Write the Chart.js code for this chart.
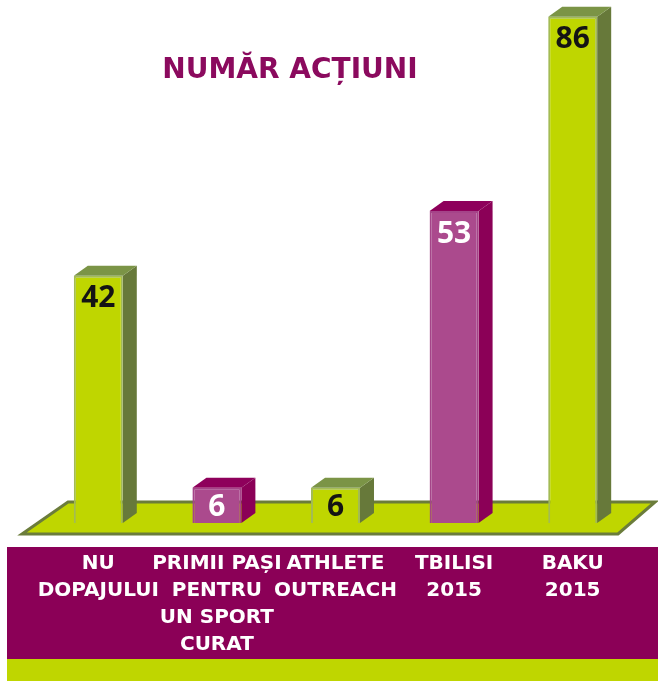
<!DOCTYPE html>
<html>
<head>
<meta charset="utf-8">
<script src="https://cdn.jsdelivr.net/npm/chart.js@4.4.1/dist/chart.umd.min.js"></script>
<style>
  html, body { margin: 0; padding: 0; background: #fff; }
  #caixa { width: 658px; height: 681px; position: relative; }
</style>
</head>
<body>
<div id="caixa"><canvas id="grafico"></canvas></div>
<script>
// dados do gráfico
const titulo = 'NUMĂR ACȚIUNI';
const categorias = [
  ['NU', 'DOPAJULUI'],
  ['PRIMII PAȘI', 'PENTRU', 'UN SPORT', 'CURAT'],
  ['ATHLETE', 'OUTREACH'],
  ['TBILISI', '2015'],
  ['BAKU', '2015']
];
const valores = [42, 6, 6, 53, 86];
const tipoCor = ['verde', 'roxo', 'verde', 'roxo', 'verde'];

// cores
const cores = {
  verde: { frente: '#bfd600', borda: '#a3bb55', lado: '#67793a', topo: '#7b9446', texto: '#141414' },
  roxo: { frente: '#ab4a8d', borda: '#a54489', lado: '#8b0057', topo: '#8e005b', texto: '#ffffff' }
};
const roxoFaixa = '#8b0057';
const verdeFaixa = '#bfd600';
const bordaChao = '#6b7c3b';
const fonte = '"DejaVu Sans", sans-serif';
const fonteValor = '"Open Sans", sans-serif';

// fundo: faixa roxa das categorias e faixa verde embaixo
const fundo = {
  id: 'fundo',
  beforeDraw(chart) {
    const ctx = chart.ctx;
    ctx.save();
    ctx.fillStyle = roxoFaixa;
    ctx.fillRect(7, 547, chart.width - 7, 112);
    ctx.fillStyle = verdeFaixa;
    ctx.fillRect(7, 659, chart.width - 7, chart.height - 659);
    ctx.restore();
  }
};

// chão em perspectiva
const chao = {
  id: 'chao',
  beforeDatasetsDraw(chart) {
    const ctx = chart.ctx;
    const a = chart.chartArea;
    const yTopo = a.bottom - 21, yBase = a.bottom + 11;
    ctx.save();
    ctx.beginPath();
    ctx.moveTo(a.left + 29, yTopo);
    ctx.lineTo(chart.width - 3, yTopo);
    ctx.lineTo(a.right - 14, yBase);
    ctx.lineTo(a.left - 17, yBase);
    ctx.closePath();
    ctx.fillStyle = verdeFaixa;
    ctx.fill();
    ctx.lineWidth = 3;
    ctx.strokeStyle = bordaChao;
    ctx.stroke();
    ctx.restore();
  }
};

// lados e topo das barras (efeito 3D) + valores
const barras3d = {
  id: 'barras3d',
  afterDatasetsDraw(chart) {
    const ctx = chart.ctx;
    const meta = chart.getDatasetMeta(0);
    const dx = 14, dy = 10;
    meta.data.forEach((bar, i) => {
      const c = cores[tipoCor[i]];
      const esq = bar.x - bar.width / 2, dir = bar.x + bar.width / 2;
      ctx.save();
      // lado
      ctx.beginPath();
      ctx.moveTo(dir, bar.y);
      ctx.lineTo(dir + dx, bar.y - dy);
      ctx.lineTo(dir + dx, bar.base - dy);
      ctx.lineTo(dir, bar.base);
      ctx.closePath();
      ctx.fillStyle = c.lado;
      ctx.fill();
      // topo
      ctx.beginPath();
      ctx.moveTo(esq, bar.y);
      ctx.lineTo(esq + dx, bar.y - dy);
      ctx.lineTo(dir + dx, bar.y - dy);
      ctx.lineTo(dir, bar.y);
      ctx.closePath();
      ctx.fillStyle = c.topo;
      ctx.fill();
      // valor
      ctx.fillStyle = c.texto;
      ctx.font = 'bold 30px ' + fonteValor;
      ctx.textAlign = 'center';
      ctx.textBaseline = 'middle';
      const yTexto = Math.min(bar.y + 23, (bar.y + bar.base) / 2 + 2);
      ctx.fillText(valores[i], bar.x, yTexto);
      ctx.restore();
    });
  }
};

// título
const tituloPlugin = {
  id: 'tituloPlugin',
  afterDraw(chart) {
    const ctx = chart.ctx;
    ctx.save();
    ctx.fillStyle = '#8b0a5e';
    ctx.font = 'bold 28px ' + fonte;
    ctx.textAlign = 'center';
    ctx.textBaseline = 'middle';
    ctx.fillText(titulo, 290, 71);
    ctx.restore();
  }
};

const dados = {
  labels: categorias,
  datasets: [{
    data: valores,
    backgroundColor: tipoCor.map(t => cores[t].frente),
    borderColor: tipoCor.map(t => cores[t].borda),
    borderWidth: 2,
    barPercentage: 0.413,
    categoryPercentage: 1
  }]
};

const config = {
  type: 'bar',
  data: dados,
  options: {
    responsive: true,
    maintainAspectRatio: false,
    animation: false,
    layout: { padding: { top: 5, left: 39, right: 26, bottom: 0 } },
    plugins: {
      legend: { display: false },
      tooltip: { enabled: false }
    },
    scales: {
      x: {
        grid: { display: false },
        border: { display: false },
        ticks: {
          color: '#ffffff',
          font: { family: fonte, size: 20, weight: 'bold', lineHeight: 1.35 },
          padding: 19,
          maxRotation: 0,
          autoSkip: false
        },
        afterFit(escala) { escala.height = 158; }
      },
      y: {
        display: false,
        min: 0,
        max: 88
      }
    }
  },
  plugins: [fundo, chao, barras3d, tituloPlugin]
};

let meuGrafico = new Chart(document.getElementById('grafico'), config);
</script>
</body>
</html>
